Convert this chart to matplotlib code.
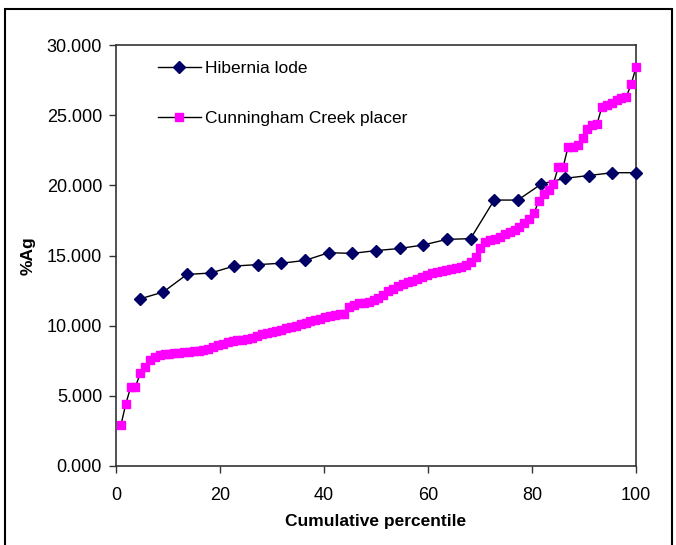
import numpy as np
import matplotlib.pyplot as plt
from matplotlib.patches import Rectangle

plt.rcParams['font.family'] = ['Liberation Sans', 'DejaVu Sans']

# Hibernia lode: %Ag sorted, 22 samples
hibernia_ag = [11.9, 12.4, 13.65, 13.75, 14.25, 14.35, 14.45, 14.65, 15.2, 15.15,
               15.35, 15.5, 15.75, 16.15, 16.2, 18.95, 18.95, 20.1, 20.5, 20.7,
               20.9, 20.9]

# Cunningham Creek placer: %Ag sorted, 107 grains
cunningham_ag = [2.9, 4.4, 5.6, 5.65, 6.6, 7.05, 7.55, 7.8, 7.9, 7.95,
                 8.0, 8.03, 8.07, 8.1, 8.15, 8.2, 8.23, 8.27, 8.35, 8.5,
                 8.6, 8.72, 8.83, 8.92, 8.97, 9.0, 9.05, 9.15, 9.28, 9.4,
                 9.5, 9.58, 9.65, 9.72, 9.8, 9.88, 10.0, 10.1, 10.2, 10.3,
                 10.4, 10.5, 10.6, 10.7, 10.75, 10.8, 10.85, 11.3, 11.45, 11.6,
                 11.65, 11.7, 11.8, 12.0, 12.2, 12.45, 12.6, 12.8, 12.95, 13.1,
                 13.2, 13.35, 13.5, 13.62, 13.72, 13.8, 13.9, 13.97, 14.05, 14.1,
                 14.2, 14.35, 14.55, 14.9, 15.5, 15.95, 16.1, 16.2, 16.35, 16.5,
                 16.65, 16.85, 17.05, 17.3, 17.6, 18.0, 18.9, 19.4, 19.7, 20.1,
                 21.3, 21.3, 22.7, 22.75, 22.9, 23.4, 24.0, 24.3, 24.4, 25.6,
                 25.7, 25.9, 26.1, 26.25, 26.3, 27.2, 28.4]

# cumulative percentile of each sorted sample
hib_pct = np.arange(1, len(hibernia_ag) + 1) / len(hibernia_ag) * 100
cun_pct = np.arange(1, len(cunningham_ag) + 1) / len(cunningham_ag) * 100

fig = plt.figure(figsize=(6.76, 5.45), dpi=100)
ax = fig.add_axes([116 / 676, 1 - 466 / 545, 520 / 676, 421 / 545])

ax.plot(hib_pct, hibernia_ag, color='black', lw=1, marker='D', markersize=6.5,
        markerfacecolor='#000066', markeredgecolor='#000066', label='Hibernia lode',
        clip_on=False, zorder=3)
ax.plot(cun_pct, cunningham_ag, color='black', lw=1, marker='s', markersize=6,
        markerfacecolor='#FF00FF', markeredgecolor='#FF00FF',
        label='Cunningham Creek placer', clip_on=False, zorder=3)

ax.set_xlim(0, 100)
ax.set_ylim(0, 30)
ax.set_xticks([0, 20, 40, 60, 80, 100])
ax.set_yticks(np.arange(0, 30.1, 5))
ax.set_yticklabels([f'{v:.3f}' for v in np.arange(0, 30.1, 5)])
ax.tick_params(direction='out', length=5, width=1, labelsize=13, color='#333333')
ax.tick_params(axis='x', pad=10)
ax.tick_params(axis='y', pad=5)
for s in ax.spines.values():
    s.set_linewidth(1.2)
    s.set_color('#333333')

ax.set_xlabel('Cumulative percentile', fontsize=12.5, fontweight='bold', labelpad=7)
ax.set_ylabel('%Ag', fontsize=12.5, fontweight='bold', labelpad=8)

ax.legend(loc='upper left', bbox_to_anchor=(0.05, 1.0), frameon=False,
          fontsize=12.5, handlelength=2.5, handletextpad=0.25, labelspacing=2.0)

# outer border around the whole picture
fig.patches.append(Rectangle((5 / 676, -0.05), 667 / 676, 1.05 - 9 / 545,
                             transform=fig.transFigure, fill=False,
                             edgecolor='black', lw=1.5))

fig.savefig('out.png', dpi=100)
